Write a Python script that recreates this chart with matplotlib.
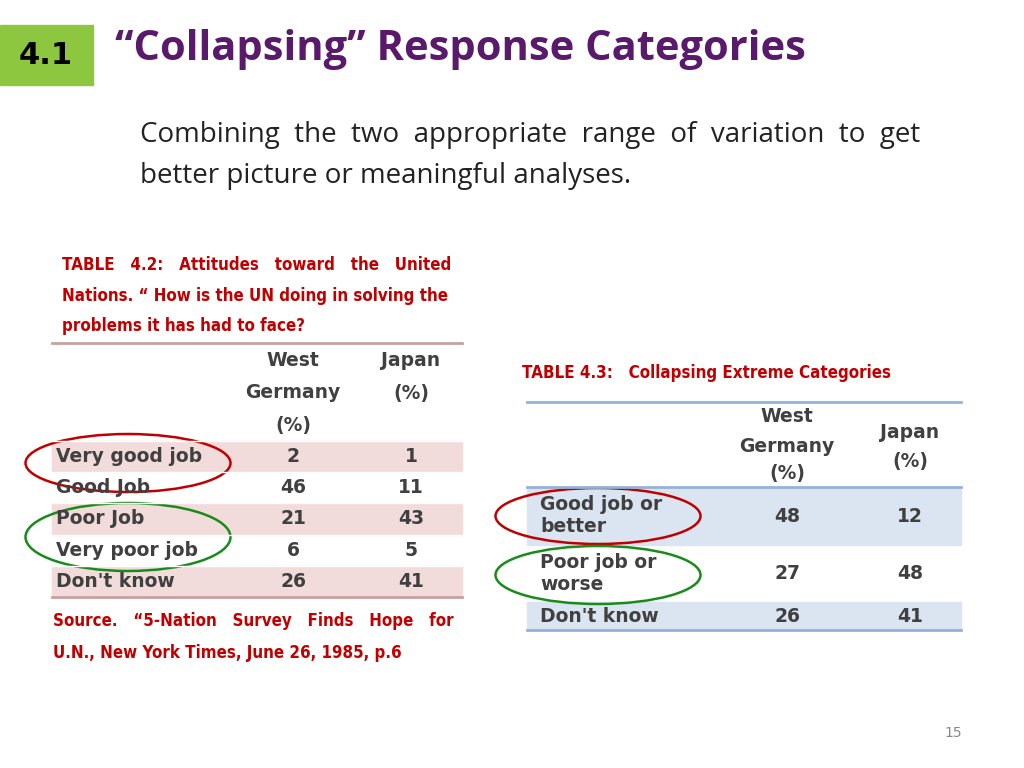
import matplotlib
matplotlib.use("Agg")
import matplotlib.pyplot as plt
from matplotlib.patches import Rectangle, Ellipse

t42_rows = ["Very good job", "Good Job", "Poor Job", "Very poor job", "Don't know"]
t42_germany = [2, 46, 21, 6, 26]
t42_japan = [1, 11, 43, 5, 41]
t43_rows = ["Good job or\nbetter", "Poor job or\nworse", "Don't know"]
t43_germany = [48, 27, 26]
t43_japan = [12, 48, 41]

fig = plt.figure(figsize=(10.24, 7.68), dpi=100)
ax = fig.add_axes([0, 0, 1, 1])
ax.set_xlim(0, 1024); ax.set_ylim(768, 0); ax.axis("off")

dred = "#c00000"
tgray = "#404040"
cap = dict(fontsize=12.2, fontweight="bold", color=dred, va="center",
           family="DejaVu Sans", fontstretch="condensed")
tb = dict(fontsize=13.5, fontweight="bold", color=tgray, va="center")

# header
ax.add_patch(Rectangle((0, 25), 93, 60, color="#8dc63f"))
ax.text(46, 56, "4.1", fontsize=22, fontweight="bold", ha="center", va="center")
ax.text(115, 50, "\u201cCollapsing\u201d Response Categories", fontsize=30, fontweight="bold",
        color="#5a1a6b", va="center", family="Open Sans")
ax.text(140, 135, "Combining  the  two  appropriate  range  of  variation  to  get", fontsize=20,
        va="center", family="Open Sans", color="#222222")
ax.text(140, 176, "better picture or meaningful analyses.", fontsize=20, va="center",
        family="Open Sans", color="#222222")

# table 4.2 caption
ax.text(62, 265, "TABLE   4.2:   Attitudes   toward   the   United", **cap)
ax.text(62, 296, "Nations. \u201c How is the UN doing in solving the", **cap)
ax.text(62, 326, "problems it has had to face?", **cap)
ax.plot([52, 462], [343, 343], color="#c9a0a0", lw=2)
for y, s in [(360, "West"), (393, "Germany"), (425, "(%)")]:
    ax.text(293, y, s, ha="center", **tb)
for y, s in [(360, "Japan"), (393, "(%)")]:
    ax.text(411, y, s, ha="center", **tb)
top = 441; h = 31.2
for i, (lab, g, j) in enumerate(zip(t42_rows, t42_germany, t42_japan)):
    y0 = top + i * h
    if i % 2 == 0:
        ax.add_patch(Rectangle((52, y0), 410, h, color="#f2dcdb"))
    yc = y0 + h / 2
    ax.text(56, yc, lab, **tb)
    ax.text(293, yc, str(g), ha="center", **tb)
    ax.text(411, yc, str(j), ha="center", **tb)
    ax.plot([52, 462], [y0, y0], color="white", lw=1)
ax.plot([52, 462], [top + 5 * h, top + 5 * h], color="#c9a0a0", lw=2)
ax.add_patch(Ellipse((128, 463), 205, 58, fill=False, ec="#c00000", lw=1.8))
ax.add_patch(Ellipse((128, 537), 205, 68, fill=False, ec="#1a8a1a", lw=1.8))
ax.text(53, 621, "Source.   \u201c5-Nation   Survey   Finds   Hope   for", **cap)
ax.text(53, 653, "U.N., New York Times, June 26, 1985, p.6", **cap)

# table 4.3
ax.text(522, 373, "TABLE 4.3:   Collapsing Extreme Categories", **cap)
ax.plot([527, 961], [402, 402], color="#95b3d7", lw=2)
for y, s in [(416, "West"), (447, "Germany"), (473, "(%)")]:
    ax.text(787, y, s, ha="center", **tb)
for y, s in [(432, "Japan"), (462, "(%)")]:
    ax.text(910, y, s, ha="center", **tb)
bounds = [(487, 545), (545, 602), (602, 630)]
for i, ((y0, y1), lab, g, j) in enumerate(zip(bounds, t43_rows, t43_germany, t43_japan)):
    if i % 2 == 0:
        ax.add_patch(Rectangle((527, y0), 434, y1 - y0, color="#dbe5f1"))
    yc = (y0 + y1) / 2
    ax.text(540, yc, lab, linespacing=1.2, **tb)
    ax.text(787, yc, str(g), ha="center", **tb)
    ax.text(910, yc, str(j), ha="center", **tb)
ax.plot([527, 961], [487, 487], color="#95b3d7", lw=2)
ax.plot([527, 961], [630, 630], color="#95b3d7", lw=2)
ax.add_patch(Ellipse((598, 516), 205, 56, fill=False, ec="#c00000", lw=1.8))
ax.add_patch(Ellipse((598, 575), 205, 58, fill=False, ec="#1a8a1a", lw=1.8))

ax.text(953, 733, "15", fontsize=10, color="#888888", ha="center", va="center")

fig.savefig("out.png", dpi=100)
